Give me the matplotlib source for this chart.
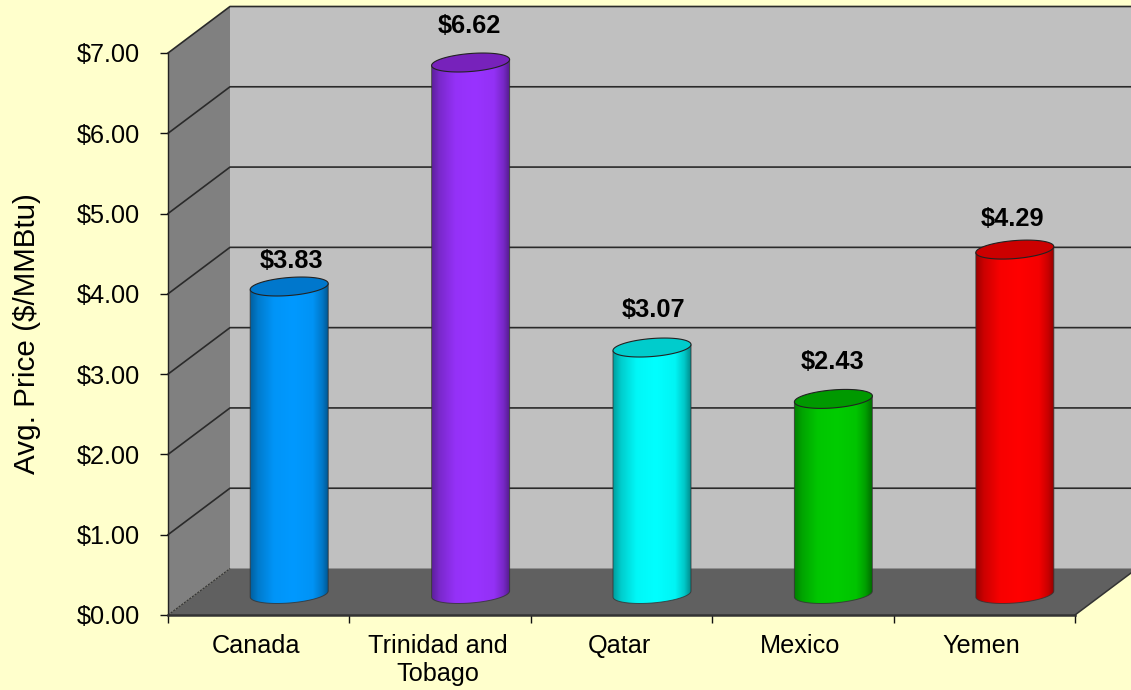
import numpy as np
import matplotlib
matplotlib.use('Agg')
import matplotlib.pyplot as plt
from matplotlib.colors import to_rgb
from matplotlib.patches import PathPatch, Polygon
from matplotlib.path import Path

plt.rcParams['font.family'] = ['Liberation Sans', 'DejaVu Sans']

categories = ['Canada', 'Trinidad and\nTobago', 'Qatar', 'Mexico', 'Yemen']
prices = [3.83, 6.62, 3.07, 2.43, 4.29]
price_labels = ['$3.83', '$6.62', '$3.07', '$2.43', '$4.29']
y_ticks = [0, 1, 2, 3, 4, 5, 6, 7]
y_tick_labels = ['$0.00', '$1.00', '$2.00', '$3.00', '$4.00', '$5.00', '$6.00', '$7.00']

bar_colors = ['#0099FF', '#9933FF', '#00FFFF', '#00CC00', '#FF0000']
top_colors = ['#0077CC', '#7722BB', '#00CCCC', '#009900', '#CC0000']
label_gaps = [26, 37, 38, 37, 31]  # px above the top ellipse
label_shifts = [2.5, -1.5, 2, -1, -2.5]  # px sideways from the bar centre

BG = '#FFFFCC'
W, H = 1131, 690
LEFT, RIGHT, BOTTOM, TOP = 168, 1075, 615, 53

fig = plt.figure(figsize=(W / 100, H / 100), dpi=100, facecolor=BG)
ax = fig.add_axes([LEFT / W, 1 - BOTTOM / H, (RIGHT - LEFT) / W, (BOTTOM - TOP) / H])
ax.set_facecolor('none')

# px to data units
ux = 5 / (RIGHT - LEFT)
uy = 7 / (BOTTOM - TOP)
depth_x = 62 * ux
depth_y = 46.5 * uy

# walls and floor
ax.add_patch(Polygon([(depth_x, depth_y), (5 + depth_x, depth_y), (5 + depth_x, 7 + depth_y), (depth_x, 7 + depth_y)],
                     fc='#C0C0C0', ec='none', zorder=1, clip_on=False))
ax.add_patch(Polygon([(0, 0), (depth_x, depth_y), (depth_x, 7 + depth_y), (0, 7)],
                     fc='#808080', ec='none', zorder=1, clip_on=False))
ax.add_patch(Polygon([(0, 0), (5, 0), (5 + depth_x, depth_y), (depth_x, depth_y)],
                     fc='#606060', ec='none', zorder=2, clip_on=False))

# gridlines run along the side wall then across the back wall
for v in y_ticks[1:]:
    ax.plot([0, depth_x, 5 + depth_x], [v, v + depth_y, v + depth_y], color='#2A2A2A', lw=1.2,
            zorder=3, clip_on=False)
ax.plot([0, depth_x], [0, depth_y], color='#333333', lw=0.8, ls=(0, (2, 1)), zorder=3, clip_on=False)
ax.plot([5, 5 + depth_x], [0, depth_y], color='#333333', lw=1.1, zorder=3, clip_on=False)

# cylinders
a = 39 * ux
b = 9 * uy
s = 3 * uy
plane_x = 30.5 * ux
plane_y = 21 * uy
t = np.linspace(0, 2 * np.pi, 121)
low = np.linspace(0, -np.pi, 61)
stops = [0, 0.1, 0.3, 0.55, 0.8, 0.92, 1]
levels = [0.62, 0.8, 0.97, 1, 0.96, 0.78, 0.55]

for i, price in enumerate(prices):
    cx = i + 0.5 + plane_x
    base = plane_y
    top = price + plane_y

    # sides plus lower half of the base ellipse
    xs = np.concatenate([[cx - a], cx + a * np.cos(low[::-1]), [cx + a]])
    ys = np.concatenate([[top - s], base + b * np.sin(low[::-1]) + s * np.cos(low[::-1]), [top + s]])
    body = Path(np.column_stack([xs, ys]))
    shade = np.interp(np.linspace(0, 1, 160), stops, levels)
    rgb = np.outer(shade, to_rgb(bar_colors[i]))[np.newaxis, :, :]
    im = ax.imshow(rgb, extent=(cx - a, cx + a, base - 2 * b, top + 2 * b), aspect='auto',
                   zorder=4, interpolation='bilinear')
    outline = PathPatch(body, fc='none', ec='#333333', lw=0.7, alpha=0.8, zorder=5, clip_on=False)
    ax.add_patch(outline)
    clip = PathPatch(body, transform=ax.transData, fc='none', ec='none')
    im.set_clip_path(clip)

    ax.add_patch(Polygon(np.column_stack([cx + a * np.cos(t), top + b * np.sin(t) + s * np.cos(t)]),
                         fc=top_colors[i], ec='#222222', lw=0.8, zorder=6, clip_on=False))
    ax.text(cx + label_shifts[i] * ux, top + label_gaps[i] * uy, price_labels[i], ha='center', va='center',
            fontsize=18.3, fontweight='bold', color='black', zorder=7)

ax.set_xlim(0, 5)
ax.set_ylim(0, 7)

for side in ['top', 'right']:
    ax.spines[side].set_visible(False)
ax.spines['left'].set_color('#222222')
ax.spines['left'].set_linewidth(1.0)
ax.spines['left'].set_zorder(3)
ax.spines['bottom'].set_color('#333333')
ax.spines['bottom'].set_linewidth(1.8)
ax.spines['bottom'].set_zorder(3)

ax.set_yticks(y_ticks)
ax.set_yticklabels(y_tick_labels, fontsize=18.2)
ax.tick_params(axis='y', length=6, width=1, color='#111111', pad=14)

# boundary ticks are major, the names sit on unmarked minor ticks
ax.set_xticks(range(6))
ax.set_xticklabels([])
ax.set_xticks([i + 0.5 - 2.5 * ux for i in range(5)], minor=True)
ax.set_xticklabels(categories, minor=True, fontsize=18.2, linespacing=1.2)
ax.tick_params(axis='x', which='major', length=6, width=1, color='#111111')
ax.tick_params(axis='x', which='minor', length=0, pad=14)

fig.text(27 / W, 1 - 334 / H, 'Avg. Price ($/MMBtu)', rotation=90, ha='center', va='center', fontsize=21.3)

fig.savefig('out.png', dpi=100, facecolor=BG)
